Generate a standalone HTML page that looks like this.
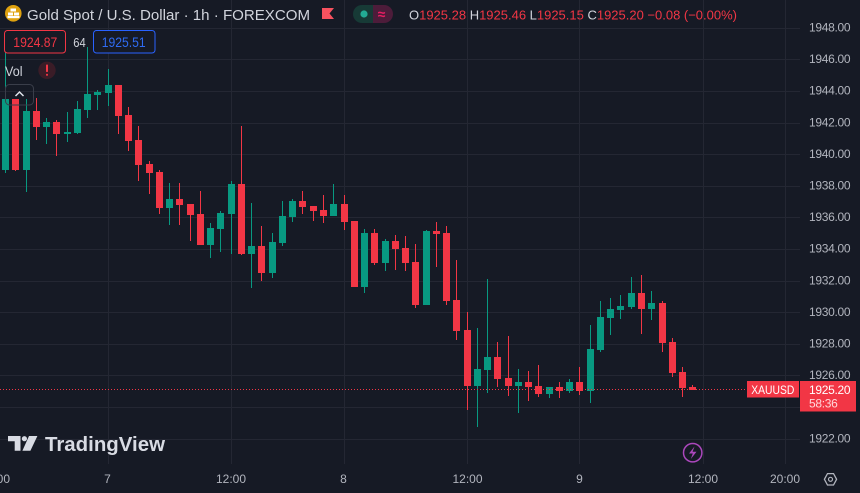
<!DOCTYPE html>
<html><head><meta charset="utf-8"><style>
html,body{margin:0;padding:0;background:#161a25;overflow:hidden;width:860px;height:493px}
svg{display:block}
text{font-family:"Liberation Sans",sans-serif}
</style></head><body>
<svg width="860" height="493" viewBox="0 0 860 493" xmlns="http://www.w3.org/2000/svg">
<rect width="860" height="493" fill="#161a25"/>
<g fill="#242733">
<rect x="0" y="28" width="800" height="1"/><rect x="0" y="59" width="800" height="1"/><rect x="0" y="91" width="800" height="1"/><rect x="0" y="123" width="800" height="1"/><rect x="0" y="154" width="800" height="1"/><rect x="0" y="186" width="800" height="1"/><rect x="0" y="217" width="800" height="1"/><rect x="0" y="249" width="800" height="1"/><rect x="0" y="281" width="800" height="1"/><rect x="0" y="312" width="800" height="1"/><rect x="0" y="344" width="800" height="1"/><rect x="0" y="375" width="800" height="1"/><rect x="0" y="407" width="800" height="1"/><rect x="0" y="439" width="800" height="1"/>
<rect x="108" y="0" width="1" height="464"/><rect x="231" y="0" width="1" height="464"/><rect x="344" y="0" width="1" height="464"/><rect x="467" y="0" width="1" height="464"/><rect x="579" y="0" width="1" height="464"/><rect x="703" y="0" width="1" height="464"/><rect x="785" y="0" width="1" height="464"/>
</g>
<!-- candles -->
<g fill="#089981">
<rect x="5" y="50" width="1" height="123"/><rect x="2" y="99" width="7" height="71"/>
<rect x="26" y="99" width="1" height="93"/><rect x="23" y="111" width="7" height="59"/>
<rect x="46" y="118" width="1" height="26"/><rect x="43" y="122" width="7" height="5"/>
<rect x="67" y="112" width="1" height="30"/><rect x="64" y="132" width="7" height="2"/>
<rect x="77" y="101" width="1" height="33"/><rect x="74" y="109" width="7" height="24"/>
<rect x="87" y="47" width="1" height="71"/><rect x="84" y="94" width="7" height="16"/>
<rect x="97" y="90" width="1" height="20"/><rect x="94" y="92" width="7" height="3"/>
<rect x="108" y="69" width="1" height="37"/><rect x="105" y="85" width="7" height="8"/>
<rect x="169" y="183" width="1" height="42"/><rect x="166" y="199" width="7" height="9"/>
<rect x="210" y="223" width="1" height="35"/><rect x="207" y="228" width="7" height="17"/>
<rect x="220" y="211" width="1" height="41"/><rect x="217" y="213" width="7" height="16"/>
<rect x="231" y="181" width="1" height="73"/><rect x="228" y="184" width="7" height="30"/>
<rect x="251" y="203" width="1" height="85"/><rect x="248" y="246" width="7" height="8"/>
<rect x="272" y="233" width="1" height="45"/><rect x="269" y="242" width="7" height="31"/>
<rect x="282" y="201" width="1" height="45"/><rect x="279" y="216" width="7" height="27"/>
<rect x="292" y="199" width="1" height="23"/><rect x="289" y="201" width="7" height="16"/>
<rect x="333" y="184" width="1" height="32"/><rect x="330" y="204" width="7" height="12"/>
<rect x="364" y="229" width="1" height="64"/><rect x="361" y="233" width="7" height="54"/>
<rect x="385" y="239" width="1" height="32"/><rect x="382" y="241" width="7" height="22"/>
<rect x="426" y="230" width="1" height="75"/><rect x="423" y="231" width="7" height="74"/>
<rect x="477" y="328" width="1" height="99"/><rect x="474" y="369" width="7" height="17"/>
<rect x="487" y="279" width="1" height="114"/><rect x="484" y="357" width="7" height="13"/>
<rect x="518" y="369" width="1" height="44"/><rect x="515" y="382" width="7" height="4"/>
<rect x="549" y="387" width="1" height="11"/><rect x="546" y="387" width="7" height="7"/>
<rect x="569" y="379" width="1" height="14"/><rect x="566" y="382" width="7" height="9"/>
<rect x="590" y="325" width="1" height="78"/><rect x="587" y="349" width="7" height="42"/>
<rect x="600" y="301" width="1" height="51"/><rect x="597" y="317" width="7" height="33"/>
<rect x="610" y="298" width="1" height="37"/><rect x="607" y="309" width="7" height="9"/>
<rect x="620" y="295" width="1" height="24"/><rect x="617" y="306" width="7" height="4"/>
<rect x="631" y="277" width="1" height="32"/><rect x="628" y="293" width="7" height="14"/>
<rect x="651" y="291" width="1" height="29"/><rect x="648" y="303" width="7" height="6"/>
</g>
<g fill="#f23645">
<rect x="15" y="99" width="1" height="72"/><rect x="12" y="99" width="7" height="71"/>
<rect x="36" y="98" width="1" height="42"/><rect x="33" y="111" width="7" height="16"/>
<rect x="56" y="120" width="1" height="36"/><rect x="53" y="122" width="7" height="12"/>
<rect x="118" y="85" width="1" height="49"/><rect x="115" y="85" width="7" height="31"/>
<rect x="128" y="107" width="1" height="44"/><rect x="125" y="115" width="7" height="26"/>
<rect x="138" y="126" width="1" height="55"/><rect x="135" y="140" width="7" height="25"/>
<rect x="149" y="161" width="1" height="33"/><rect x="146" y="164" width="7" height="9"/>
<rect x="159" y="170" width="1" height="44"/><rect x="156" y="172" width="7" height="36"/>
<rect x="179" y="183" width="1" height="42"/><rect x="176" y="199" width="7" height="6"/>
<rect x="190" y="204" width="1" height="37"/><rect x="187" y="204" width="7" height="11"/>
<rect x="200" y="191" width="1" height="54"/><rect x="197" y="214" width="7" height="31"/>
<rect x="241" y="126" width="1" height="129"/><rect x="238" y="184" width="7" height="70"/>
<rect x="261" y="226" width="1" height="55"/><rect x="258" y="246" width="7" height="27"/>
<rect x="302" y="191" width="1" height="23"/><rect x="299" y="201" width="7" height="6"/>
<rect x="313" y="206" width="1" height="15"/><rect x="310" y="206" width="7" height="5"/>
<rect x="323" y="195" width="1" height="28"/><rect x="320" y="210" width="7" height="6"/>
<rect x="344" y="195" width="1" height="35"/><rect x="341" y="204" width="7" height="18"/>
<rect x="354" y="221" width="1" height="66"/><rect x="351" y="221" width="7" height="66"/>
<rect x="374" y="229" width="1" height="36"/><rect x="371" y="233" width="7" height="30"/>
<rect x="395" y="235" width="1" height="35"/><rect x="392" y="241" width="7" height="8"/>
<rect x="405" y="236" width="1" height="35"/><rect x="402" y="248" width="7" height="15"/>
<rect x="415" y="244" width="1" height="64"/><rect x="412" y="262" width="7" height="43"/>
<rect x="436" y="222" width="1" height="45"/><rect x="433" y="231" width="7" height="3"/>
<rect x="446" y="226" width="1" height="79"/><rect x="443" y="233" width="7" height="68"/>
<rect x="456" y="260" width="1" height="80"/><rect x="453" y="300" width="7" height="31"/>
<rect x="467" y="312" width="1" height="98"/><rect x="464" y="330" width="7" height="56"/>
<rect x="497" y="342" width="1" height="45"/><rect x="494" y="357" width="7" height="22"/>
<rect x="508" y="336" width="1" height="60"/><rect x="505" y="378" width="7" height="8"/>
<rect x="528" y="371" width="1" height="30"/><rect x="525" y="382" width="7" height="5"/>
<rect x="538" y="365" width="1" height="32"/><rect x="535" y="386" width="7" height="8"/>
<rect x="559" y="382" width="1" height="16"/><rect x="556" y="387" width="7" height="4"/>
<rect x="579" y="367" width="1" height="28"/><rect x="576" y="382" width="7" height="9"/>
<rect x="641" y="275" width="1" height="59"/><rect x="638" y="293" width="7" height="16"/>
<rect x="662" y="301" width="1" height="51"/><rect x="659" y="303" width="7" height="40"/>
<rect x="672" y="338" width="1" height="39"/><rect x="669" y="342" width="7" height="31"/>
<rect x="682" y="367" width="1" height="30"/><rect x="679" y="372" width="7" height="16"/>
<rect x="692" y="385" width="1" height="5"/><rect x="689" y="387" width="7" height="3"/>
</g>
<!-- last price dotted line -->
<line x1="0" y1="389.5" x2="747" y2="389.5" stroke="#f23645" stroke-width="1" stroke-dasharray="1 2"/>
<!-- header -->
<circle cx="13.3" cy="13.3" r="8.3" fill="#dfa20f"/>
<g fill="#ffffff"><rect x="10.5" y="8.5" width="5.5" height="3"/><rect x="8" y="12.5" width="5" height="3"/><rect x="14" y="12.5" width="5" height="3"/><rect x="7.5" y="16" width="12" height="2.2"/></g>
<text x="27" y="20" font-size="15" fill="#d1d4dc" textLength="283" lengthAdjust="spacingAndGlyphs">Gold Spot / U.S. Dollar · 1h · FOREXCOM</text>
<polygon points="322,8 334,8 329.5,13.5 334,19 322,19" fill="#f7525f"/>
<path d="M362,5 H373 V23 H362 A9,9 0 0 1 362,5 Z" fill="#173a36"/>
<path d="M373,5 H384 A9,9 0 0 1 384,23 H373 Z" fill="#4d1c3a"/>
<circle cx="364" cy="14" r="3.6" fill="#22ab94"/>
<text x="381.5" y="19" font-size="14" fill="#e91e63" text-anchor="middle" font-weight="bold">≈</text>
<text x="409" y="19.5" font-size="13" fill="#f23645" textLength="328" lengthAdjust="spacingAndGlyphs"><tspan fill="#d1d4dc">O</tspan>1925.28 <tspan fill="#d1d4dc">H</tspan>1925.46 <tspan fill="#d1d4dc">L</tspan>1925.15 <tspan fill="#d1d4dc">C</tspan>1925.20 −0.08 (−0.00%)</text>
<!-- bid/ask -->
<rect x="4.5" y="30.5" width="61" height="22.5" rx="3" fill="#161a25" stroke="#f23645" stroke-width="1"/>
<text x="13.3" y="47" font-size="13.5" fill="#f23645" textLength="44" lengthAdjust="spacingAndGlyphs">1924.87</text>
<text x="73.3" y="47" font-size="12.5" fill="#d1d4dc" textLength="12.4" lengthAdjust="spacingAndGlyphs">64</text>
<rect x="93.5" y="30.5" width="61.5" height="22.5" rx="3" fill="#161a25" stroke="#2962ff" stroke-width="1"/>
<text x="101.7" y="47" font-size="13.5" fill="#2f6bf2" textLength="44" lengthAdjust="spacingAndGlyphs">1925.51</text>
<!-- vol -->
<text x="5" y="76" font-size="14" fill="#d1d4dc" textLength="17.5" lengthAdjust="spacingAndGlyphs">Vol</text>
<circle cx="47" cy="70.3" r="8.7" fill="#3a1c27"/>
<rect x="46" y="64.5" width="2" height="7.5" rx="0.8" fill="#f23645"/>
<rect x="46" y="73.8" width="2" height="2" rx="0.8" fill="#f23645"/>
<rect x="5.5" y="84.5" width="28" height="20.5" rx="4" fill="none" stroke="#3a3e4a" stroke-width="1"/>
<polyline points="15.5,96 19.5,92 23.5,96" fill="none" stroke="#e0e3eb" stroke-width="1.5"/>
<!-- price axis -->
<g font-size="12" fill="#b2b5be" letter-spacing="-0.3">
<text x="809" y="31.5">1948.00</text><text x="809" y="63">1946.00</text><text x="809" y="94.5">1944.00</text><text x="809" y="126.5">1942.00</text><text x="809" y="158">1940.00</text><text x="809" y="189.5">1938.00</text><text x="809" y="221">1936.00</text><text x="809" y="252.5">1934.00</text><text x="809" y="284.5">1932.00</text><text x="809" y="316">1930.00</text><text x="809" y="347.5">1928.00</text><text x="809" y="379">1926.00</text><text x="809" y="442.5">1922.00</text>
</g>
<rect x="747" y="381" width="52" height="16.5" fill="#f23645"/>
<text x="751.3" y="394" font-size="12" fill="#ffffff" textLength="43" lengthAdjust="spacingAndGlyphs">XAUUSD</text>
<rect x="800" y="381" width="56" height="30.5" fill="#f23645"/>
<text x="809" y="394" font-size="12" fill="#ffffff" letter-spacing="-0.3">1925.20</text>
<text x="809" y="407.3" font-size="12" fill="#ffd6da" letter-spacing="-0.3">58:36</text>
<!-- time axis -->
<g font-size="12" fill="#b2b5be" text-anchor="middle">
<text x="-5" y="483">20:00</text><text x="107.5" y="483">7</text><text x="231" y="483">12:00</text><text x="343.5" y="483">8</text><text x="467.5" y="483">12:00</text><text x="579.5" y="483">9</text><text x="703" y="483">12:00</text><text x="785" y="483">20:00</text>
</g>
<!-- settings icon -->
<polygon points="836.6,479.3 833.5,485 827.5,485 824.4,479.3 827.5,473.6 833.5,473.6" fill="none" stroke="#b2b5be" stroke-width="1.3"/>
<circle cx="830.5" cy="479.3" r="2" fill="none" stroke="#b2b5be" stroke-width="1.2"/>
<!-- lightning -->
<circle cx="692.7" cy="452.7" r="9.2" fill="none" stroke="#ab47bc" stroke-width="1.5"/>
<path d="M694.5,446.5 L689,453.5 H692.8 L690.8,459 L696.5,451.8 H692.6 Z" fill="#ab47bc"/>
<!-- TradingView logo -->
<g fill="#d8dbe3">
<path d="M8,436 H20.5 V450.8 H14.7 V441.3 H8 Z"/>
<circle cx="24.4" cy="438.7" r="2.6"/>
<polygon points="29,436 37.4,436 30.4,450.8 22.4,450.8"/>
</g>
<text x="45" y="451" font-size="20" font-weight="bold" fill="#d8dbe3" textLength="120" lengthAdjust="spacingAndGlyphs">TradingView</text>
</svg>
</body></html>
